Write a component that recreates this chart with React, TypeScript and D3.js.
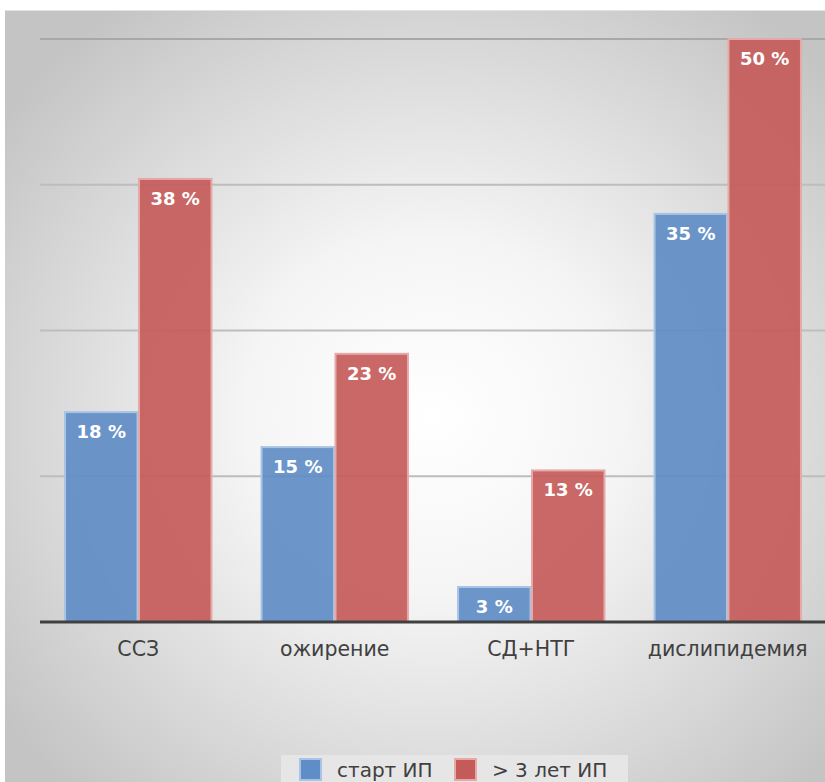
import React from "react";
import * as d3 from "d3";

const categories = ["ССЗ", "ожирение", "СД+НТГ", "дислипидемия"];
const seriesNames = ["старт ИП", "> 3 лет ИП"];
const startValues = [18, 15, 3, 35];
const after3Values = [38, 23, 13, 50];
const gridTicks = [12.5, 25, 37.5, 50];

const W = 825;
const H = 782;
const plot = { left: 40, right: 826, top: 39, bottom: 622 };
const fills = ["#5f8dc6", "#c45b59"];
const strokes = ["#a9c3e4", "#e6a9a8"];

export default function App() {
  const x0 = d3
    .scaleBand<string>()
    .domain(categories)
    .range([plot.left, plot.right])
    .paddingInner(0.255)
    .paddingOuter(0.1275);
  const x1 = d3
    .scaleBand<string>()
    .domain(seriesNames)
    .range([0, x0.bandwidth()])
    .paddingInner(0.02);
  const y = d3.scaleLinear().domain([0, 50]).range([plot.bottom, plot.top]);
  const series = [startValues, after3Values];

  return (
    <svg
      width={W}
      height={H}
      style={{ position: "absolute", left: 0, top: 0 }}
      fontFamily="'DejaVu Sans', sans-serif"
    >
      <defs>
        <radialGradient id="bg" cx="0.52" cy="0.52" r="0.65">
          <stop offset="0" stopColor="#ffffff" />
          <stop offset="0.35" stopColor="#f5f5f5" />
          <stop offset="1" stopColor="#c4c4c4" />
        </radialGradient>
      </defs>
      <rect x={0} y={0} width={W} height={H} fill="#ffffff" />
      <rect x={5} y={10} width={W} height={H} fill="url(#bg)" />
      <line x1={5} x2={W} y1={10.5} y2={10.5} stroke="#e2e2e2" strokeWidth={1} />

      {gridTicks.map((t) => (
        <line
          key={t}
          x1={plot.left}
          x2={W}
          y1={y(t)}
          y2={y(t)}
          stroke={t === 50 ? "#a8a8a8" : "#bdbdbd"}
          strokeWidth={2}
        />
      ))}

      {categories.map((c, ci) =>
        series.map((vals, si) => {
          const bx = (x0(c) ?? 0) + (x1(seriesNames[si]) ?? 0);
          const bw = x1.bandwidth();
          const by = y(vals[ci]);
          return (
            <g key={c + si}>
              <rect
                x={bx}
                y={by}
                width={bw}
                height={plot.bottom - by}
                fill={fills[si]}
                fillOpacity={0.92}
                stroke={strokes[si]}
                strokeWidth={2}
              />
              <text
                x={bx + bw / 2}
                y={by + 26}
                textAnchor="middle"
                fill="#ffffff"
                fontWeight="bold"
                fontSize={18}
              >
                {vals[ci]} %
              </text>
            </g>
          );
        })
      )}

      <line
        x1={plot.left}
        x2={W}
        y1={plot.bottom}
        y2={plot.bottom}
        stroke="#404040"
        strokeWidth={3}
      />

      {categories.map((c) => (
        <text
          key={c}
          x={(x0(c) ?? 0) + x0.bandwidth() / 2}
          y={656}
          textAnchor="middle"
          fill="#404040"
          fontSize={20.5}
        >
          {c}
        </text>
      ))}

      <rect x={281} y={755} width={347} height={30} fill="#e6e6e6" />
      {seriesNames.map((s, i) => {
        const lx = [300, 455][i];
        return (
          <g key={s}>
            <rect
              x={lx}
              y={759}
              width={21}
              height={21}
              fill={fills[i]}
              stroke={strokes[i]}
              strokeWidth={2}
            />
            <text x={lx + 37} y={777} fill="#404040" fontSize={20}>
              {s}
            </text>
          </g>
        );
      })}
    </svg>
  );
}
